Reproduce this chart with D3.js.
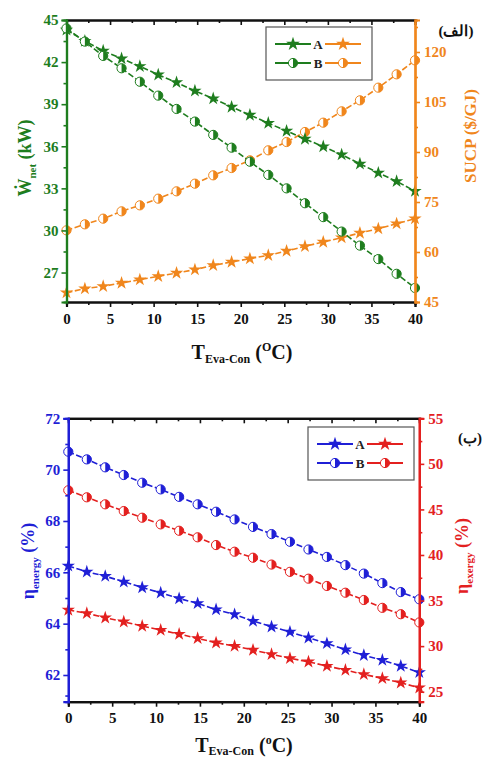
<!DOCTYPE html>
<html><head><meta charset="utf-8">
<script src="https://cdn.jsdelivr.net/npm/d3@7"></script>
<style>
body{margin:0;background:#fff;}
svg{display:block;}
text{font-family:"Liberation Serif","Times New Roman",serif;font-weight:bold;}
</style></head>
<body>
<svg id="chart" width="486" height="761"></svg>
<script>
// ---------- data ----------
const tempX = [0, 2.11, 4.21, 6.32, 8.42, 10.53, 12.63, 14.74, 16.84, 18.95, 21.05, 23.16, 25.26, 27.37, 29.47, 31.58, 33.68, 35.79, 37.89, 40];
const xTicks = [0, 5, 10, 15, 20, 25, 30, 35, 40];

// (a) net power (kW), left axis
const wnetA = [44.3, 43.5, 42.8, 42.25, 41.7, 41.1, 40.55, 39.95, 39.4, 38.8, 38.23, 37.65, 37.09, 36.52, 35.98, 35.4, 34.75, 34.1, 33.5, 32.8];
const wnetB = [44.4, 43.46, 42.44, 41.56, 40.6, 39.61, 38.66, 37.76, 36.81, 35.9, 34.9, 33.96, 33.0, 31.94, 30.95, 29.92, 28.92, 27.96, 26.91, 25.9];
// (a) SUCP ($/GJ), right axis
const sucpA = [47.8, 49.0, 49.7, 50.7, 51.7, 52.7, 53.7, 54.7, 56.0, 57.0, 58.0, 59.0, 60.3, 61.7, 63.0, 64.3, 65.7, 67.0, 68.5, 70.0];
const sucpB = [66.5, 68.3, 70.0, 72.2, 74.0, 76.0, 78.2, 80.5, 83.0, 85.2, 87.5, 90.5, 93.0, 96.0, 98.8, 102.2, 105.5, 109.3, 113.3, 117.5];
const wnetTicks = [27, 30, 33, 36, 39, 42, 45];
const sucpTicks = [45, 60, 75, 90, 105, 120];

// (b) energy efficiency (%), left axis
const energyA = [66.25, 66.02, 65.85, 65.63, 65.41, 65.2, 64.98, 64.79, 64.55, 64.36, 64.1, 63.88, 63.68, 63.45, 63.23, 62.99, 62.77, 62.58, 62.35, 62.1];
const energyB = [70.7, 70.4, 70.09, 69.79, 69.49, 69.23, 68.94, 68.65, 68.36, 68.06, 67.77, 67.49, 67.19, 66.89, 66.6, 66.28, 65.95, 65.58, 65.23, 64.95];
// (b) exergy efficiency (%), right axis
const exergyA = [33.96, 33.6, 33.11, 32.67, 32.2, 31.76, 31.32, 30.85, 30.37, 30.0, 29.57, 29.1, 28.66, 28.28, 27.81, 27.37, 26.9, 26.46, 25.98, 25.43];
const exergyB = [47.1, 46.33, 45.56, 44.82, 44.09, 43.36, 42.66, 41.94, 41.09, 40.36, 39.7, 38.95, 38.15, 37.4, 36.6, 35.86, 35.06, 34.2, 33.5, 32.6];
const energyTicks = [62, 64, 66, 68, 70, 72];
const exergyTicks = [25, 30, 35, 40, 45, 50, 55];

const seriesNames = ["A", "B"];

// ---------- styles ----------
const GREEN = "#1e7d1e", ORANGE = "#f0861c", BLUE = "#1f1fd6", RED = "#e3201f";
const svg = d3.select("#chart");

function halfCircle(g, x, y, color, r) {
  g.append("circle").attr("cx", x).attr("cy", y).attr("r", r)
    .attr("fill", "#fff").attr("stroke", color).attr("stroke-width", 1);
  g.append("path").attr("transform", `translate(${x},${y})`)
    .attr("d", `M0,${-r}A${r},${r} 0 0 1 0,${r}Z`).attr("fill", color);
}
function star(g, x, y, color, size) {
  g.append("path").attr("transform", `translate(${x},${y})`)
    .attr("d", d3.symbol(d3.symbolStar, size)()).attr("fill", color);
}
function drawSeries(g, xs, ys, vals, color, kind) {
  const line = d3.line().x((d, i) => xs(tempX[i])).y(d => ys(d));
  g.append("path").datum(vals).attr("d", line).attr("fill", "none")
    .attr("stroke", color).attr("stroke-width", 1.6).attr("stroke-dasharray", "6,2.5");
  vals.forEach((v, i) => {
    if (kind === "star") star(g, xs(tempX[i]), ys(v), color, 55);
    else halfCircle(g, xs(tempX[i]), ys(v), color, 4.6);
  });
}
function minorOf(ticks) {
  const m = [];
  for (let i = 0; i < ticks.length - 1; i++) m.push((ticks[i] + ticks[i + 1]) / 2);
  return m;
}

function panel(cfg) {
  const {x0, x1, y0, y1, yL, yR, tL, tR, cL, cR} = cfg;
  const g = svg.append("g");
  const x = d3.scaleLinear().domain([0, 40]).range([x0, x1]);
  const yl = d3.scaleLinear().domain(yL).range([y1, y0]);
  const yr = d3.scaleLinear().domain(yR).range([y1, y0]);
  const xMinor = minorOf(xTicks);

  const data = g.append("g");
  cfg.draw(data, x, yl, yr);

  const bx = g.append("g").attr("transform", `translate(0,${y1})`)
    .call(d3.axisBottom(x).tickValues(xTicks).tickSize(5).tickPadding(6).tickFormat(d3.format("d")));
  const bxm = g.append("g").attr("transform", `translate(0,${y1})`)
    .call(d3.axisBottom(x).tickValues(xMinor).tickSize(3).tickFormat(""));
  const tx = g.append("g").attr("transform", `translate(0,${y0})`)
    .call(d3.axisBottom(x).tickValues(xTicks).tickSize(5).tickFormat(""));
  const txm = g.append("g").attr("transform", `translate(0,${y0})`)
    .call(d3.axisBottom(x).tickValues(xMinor).tickSize(3).tickFormat(""));
  [bx, bxm, tx, txm].forEach(a => {
    a.select(".domain").attr("stroke", "#111").attr("stroke-width", 2.2);
    a.selectAll(".tick line").attr("stroke", "#111").attr("stroke-width", 1.6);
    a.selectAll("text").attr("font-size", 15).attr("fill", "#111")
      .attr("font-family", '"Liberation Serif",serif').attr("font-weight", "bold");
  });
  const la = g.append("g").attr("transform", `translate(${x0},0)`)
    .call(d3.axisLeft(yl).tickValues(tL).tickSize(5).tickPadding(3).tickFormat(d3.format("d")));
  const lam = g.append("g").attr("transform", `translate(${x0},0)`)
    .call(d3.axisLeft(yl).tickValues(minorOf(tL).concat(cfg.extraL || [])).tickSize(3).tickFormat(""));
  const ra = g.append("g").attr("transform", `translate(${x1},0)`)
    .call(d3.axisRight(yr).tickValues(tR).tickSize(5).tickPadding(4).tickFormat(d3.format("d")));
  const ram = g.append("g").attr("transform", `translate(${x1},0)`)
    .call(d3.axisRight(yr).tickValues(minorOf(tR).concat(cfg.extraR || [])).tickSize(3).tickFormat(""));
  [[la, cL], [lam, cL], [ra, cR], [ram, cR]].forEach(([a, c]) => {
    a.select(".domain").attr("stroke", c).attr("stroke-width", 2.2);
    a.selectAll(".tick line").attr("stroke", c).attr("stroke-width", 1.6);
    a.selectAll("text").attr("font-size", 15).attr("fill", c)
      .attr("font-family", '"Liberation Serif",serif').attr("font-weight", "bold");
  });
  return {g, x, yl, yr};
}

function legend(g, bx, by, c1, c2) {
  g.append("rect").attr("x", bx).attr("y", by).attr("width", 106).attr("height", 53)
    .attr("fill", "#fff").attr("stroke", "#555").attr("stroke-width", 1.2);
  seriesNames.forEach((name, i) => {
    const yy = by + 17 + i * 19;
    [[bx + 9, c1], [bx + 59, c2]].forEach(([sx, c]) => {
      g.append("line").attr("x1", sx).attr("x2", sx + 36).attr("y1", yy).attr("y2", yy)
        .attr("stroke", c).attr("stroke-width", 1.8);
      if (i === 0) star(g, sx + 18, yy, c, 60); else halfCircle(g, sx + 18, yy, c, 4.6);
    });
    g.append("text").attr("x", bx + 52).attr("y", yy + 5).attr("text-anchor", "middle")
      .attr("font-size", 13).attr("fill", "#222").text(name);
  });
}

function arabicLabel(x, y, txt) {
  svg.append("text").attr("x", x).attr("y", y).attr("text-anchor", "middle")
    .attr("direction", "rtl").style("unicode-bidi", "embed")
    .attr("font-family", '"DejaVu Sans",sans-serif').attr("font-weight", "normal")
    .attr("font-size", 15).attr("fill", "#111").text(txt);
}

// ---------- panel (a) ----------
const pa = panel({
  x0: 66.5, x1: 415, y0: 20, y1: 302,
  yL: [24.9, 45], yR: [45, 129.6], tL: wnetTicks, tR: sucpTicks, cL: GREEN, cR: ORANGE,
  extraR: [127.5],
  draw: (g, x, yl, yr) => {
    drawSeries(g, x, yr, sucpA, ORANGE, "star");
    drawSeries(g, x, yr, sucpB, ORANGE, "half");
    drawSeries(g, x, yl, wnetA, GREEN, "star");
    drawSeries(g, x, yl, wnetB, GREEN, "half");
  }
});
legend(pa.g, 266, 27, GREEN, ORANGE);

const tl = svg.append("text").attr("transform", "translate(31,158) rotate(-90)")
  .attr("text-anchor", "middle").attr("fill", GREEN).attr("font-size", 18);
tl.append("tspan").text("Ẇ");
tl.append("tspan").attr("font-size", 11).attr("dy", 5).text("net");
tl.append("tspan").attr("dy", -5).text(" (kW)");
svg.append("text").attr("transform", "translate(476,136) rotate(-90)")
  .attr("text-anchor", "middle").attr("fill", ORANGE).attr("font-size", 17).text("SUCP ($/GJ)");
const xa = svg.append("text").attr("x", 242).attr("y", 359).attr("text-anchor", "middle")
  .attr("fill", "#111").attr("font-size", 20);
xa.append("tspan").text("T");
xa.append("tspan").attr("font-size", 12).attr("dy", 4).text("Eva-Con");
xa.append("tspan").attr("dy", -4).text(" (");
xa.append("tspan").attr("font-size", 12).attr("dy", -8).text("O");
xa.append("tspan").attr("dy", 8).text("C)");
arabicLabel(456, 36, "(الف)");

// ---------- panel (b) ----------
const pb = panel({
  x0: 68.3, x1: 419.3, y0: 418.3, y1: 701.7,
  yL: [60.96, 72], yR: [23.9, 55], tL: energyTicks, tR: exergyTicks, cL: BLUE, cR: RED,
  extraL: [61.2],
  draw: (g, x, yl, yr) => {
    drawSeries(g, x, yr, exergyA, RED, "star");
    drawSeries(g, x, yr, exergyB, RED, "half");
    drawSeries(g, x, yl, energyA, BLUE, "star");
    drawSeries(g, x, yl, energyB, BLUE, "half");
  }
});
legend(pb.g, 308, 427, BLUE, RED);

const bl = svg.append("text").attr("transform", "translate(34,561) rotate(-90)")
  .attr("text-anchor", "middle").attr("fill", BLUE).attr("font-size", 18);
bl.append("tspan").text("η");
bl.append("tspan").attr("font-size", 11).attr("dy", 5).text("energy");
bl.append("tspan").attr("dy", -5).text(" (%)");
const br = svg.append("text").attr("transform", "translate(468,556) rotate(-90)")
  .attr("text-anchor", "middle").attr("fill", RED).attr("font-size", 18);
br.append("tspan").text("η");
br.append("tspan").attr("font-size", 11).attr("dy", 5).text("exergy");
br.append("tspan").attr("dy", -5).text(" (%)");
const xb = svg.append("text").attr("x", 244).attr("y", 752).attr("text-anchor", "middle")
  .attr("fill", "#111").attr("font-size", 20);
xb.append("tspan").text("T");
xb.append("tspan").attr("font-size", 12).attr("dy", 3).text("Eva-Con");
xb.append("tspan").attr("dy", -3).text(" (");
xb.append("tspan").attr("font-size", 12).attr("dy", -8).text("o");
xb.append("tspan").attr("dy", 8).text("C)");
arabicLabel(470, 443, "(ب)");
</script>
</body></html>
